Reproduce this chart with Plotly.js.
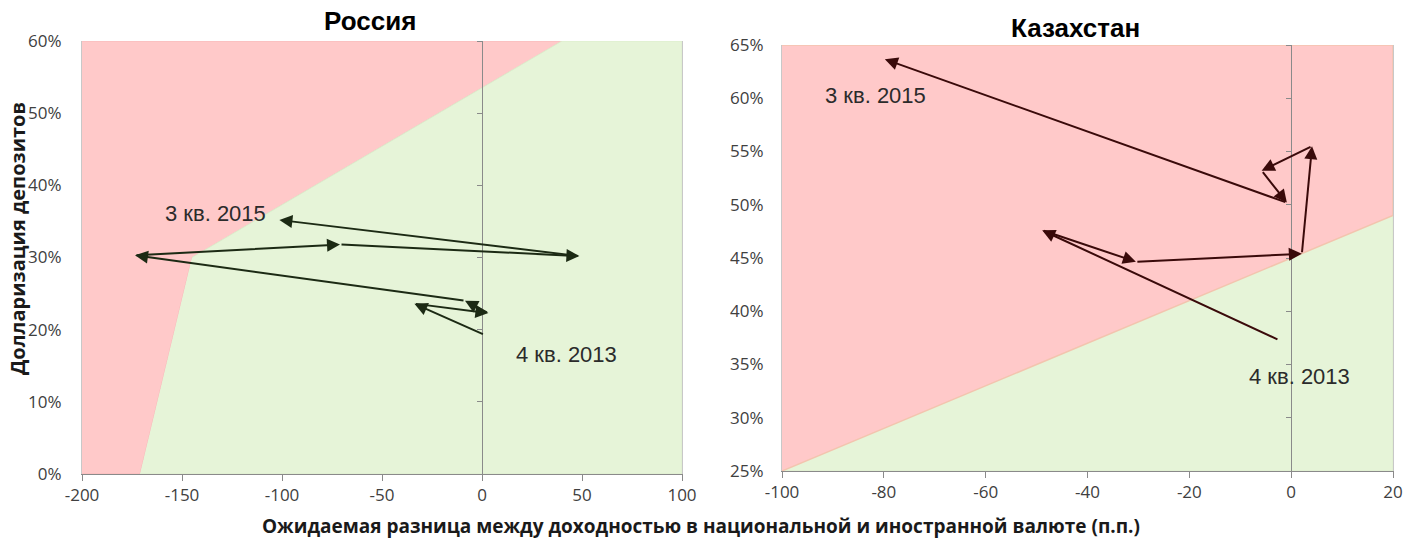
<!DOCTYPE html>
<html>
<head>
<meta charset="utf-8">
<script src="https://cdn.plot.ly/plotly-3.0.1.min.js"></script>
<style>html,body{margin:0;padding:0;background:#fff;}#chart{width:1419px;height:542px;}</style>
</head>
<body>
<div id="chart"></div>
<script>
// ---- data ----
const quarters = ['4 кв. 2013','1 кв. 2014','2 кв. 2014','3 кв. 2014','4 кв. 2014','1 кв. 2015','2 кв. 2015','3 кв. 2015'];
// Россия: expected yield differential (p.p.) and deposit dollarization (%)
const ruX = [1.2, -33.8, 3.2, -8.5, -173.5, -71.0, 48.7, -101.3];
const ruY = [19.3, 23.6, 22.3, 24.0, 30.3, 31.8, 30.2, 35.2];
// Казахстан
const kzX = [-2.4, -48.9, -30.5, 2.1, 4.1, -5.8, -0.85, -79.8];
const kzY = [37.3, 47.6, 44.65, 45.4, 55.5, 53.2, 50.2, 63.66];
// zone boundaries
const ruPinkX = [-200, -171, -145, 40, -200];
const ruPinkY = [0, 0, 30, 60, 60];
const ruGreenX = [-171, 100, 100, 40, -145];
const ruGreenY = [0, 0, 60, 60, 30];
const kzPinkX = [-100, 20, 20, -100];
const kzPinkY = [25, 49, 65, 65];
const kzGreenX = [-100, 20, 20];
const kzGreenY = [25, 25, 49];
// ticks
const ruXTicks = [-200, -150, -100, -50, 0, 50, 100];
const ruYTicks = [0, 10, 20, 30, 40, 50, 60];
const kzXTicks = [-100, -80, -60, -40, -20, 0, 20];
const kzYTicks = [25, 30, 35, 40, 45, 50, 55, 60, 65];
const ruRange = [-200, 100], ruYRange = [0, 60];
const kzRange = [-100, 20], kzYRange = [25, 65];
// labels
const ruLabels = [{t:'3 кв. 2015', x:-133.5, y:36.1}, {t:'4 кв. 2013', x:42, y:16.5}];
const kzLabels = [{t:'3 кв. 2015', x:-81.7, y:60.3}, {t:'4 кв. 2013', x:1.6, y:33.9}];

// ---- style ----
const PINK = '#ffc9c9', GREEN = '#e6f4d8';
const RU_ARROW = '#1c2a14', KZ_ARROW = '#3a0a0a';
const AX = '#8a8a8a';
const TICKFONT = {family:'Open Sans, sans-serif', size:17, color:'#404040'};
const LABELFONT = {family:'Liberation Sans, Arial, sans-serif', size:22, color:'#2b2b2b'};
const numTxt = v => String(v);           // plain hyphen minus, as in the source
const pctTxt = v => v + '%';

const xd1 = [82/1419, 682/1419], yd1 = [68/542, 501/542];
const xd2 = [782/1419, 1393/1419], yd2 = [71/542, 497/542];
const zeroPos = (dom, rng) => dom[0] + (0 - rng[0]) / (rng[1] - rng[0]) * (dom[1] - dom[0]);

const traces = [
  {x: ruPinkX, y: ruPinkY, xaxis:'x', yaxis:'y', fill:'toself', fillcolor:PINK, mode:'lines', line:{width:1, color:'#f7b9b9'}, hoverinfo:'skip', showlegend:false},
  {x: ruGreenX, y: ruGreenY, xaxis:'x', yaxis:'y', fill:'toself', fillcolor:GREEN, mode:'lines', line:{width:1, color:'#dcedcc'}, hoverinfo:'skip', showlegend:false},
  {x: kzGreenX, y: kzGreenY, xaxis:'x2', yaxis:'y2', fill:'toself', fillcolor:GREEN, mode:'lines', line:{width:1, color:'#dcedcc'}, hoverinfo:'skip', showlegend:false},
  {x: kzPinkX, y: kzPinkY, xaxis:'x2', yaxis:'y2', fill:'toself', fillcolor:PINK, mode:'lines', line:{width:1.5, color:'#f3c4ae'}, hoverinfo:'skip', showlegend:false},
  {x:[0], y:[null], xaxis:'x', yaxis:'y3', mode:'markers', marker:{opacity:0}, hoverinfo:'skip', showlegend:false},
  {x:[0], y:[null], xaxis:'x2', yaxis:'y4', mode:'markers', marker:{opacity:0}, hoverinfo:'skip', showlegend:false}
];

const annotations = [];
function arrows(X, Y, xr, yr, color) {
  for (let i = 1; i < X.length; i++) {
    annotations.push({x: X[i], y: Y[i], ax: X[i-1], ay: Y[i-1], xref: xr, yref: yr, axref: xr, ayref: yr,
      text: '', showarrow: true, arrowhead: 2, arrowsize: 1.3, arrowwidth: 2, arrowcolor: color, standoff: 0, startstandoff: 0});
  }
}
arrows(ruX, ruY, 'x', 'y', RU_ARROW);
arrows(kzX, kzY, 'x2', 'y2', KZ_ARROW);
ruLabels.forEach(l => annotations.push({x:l.x, y:l.y, xref:'x', yref:'y', xanchor:'center', yanchor:'middle', text:l.t, showarrow:false, font:LABELFONT}));
kzLabels.forEach(l => annotations.push({x:l.x, y:l.y, xref:'x2', yref:'y2', xanchor:'center', yanchor:'middle', text:l.t, showarrow:false, font:LABELFONT}));
annotations.push({text:'<b>Россия</b>', xref:'paper', yref:'paper', x:370/1419, y:1-21/542, xanchor:'center', yanchor:'middle', showarrow:false, font:{family:'Liberation Sans, Arial, sans-serif', size:26, color:'#000'}});
annotations.push({text:'<b>Казахстан</b>', xref:'paper', yref:'paper', x:1075/1419, y:1-28/542, xanchor:'center', yanchor:'middle', showarrow:false, font:{family:'Liberation Sans, Arial, sans-serif', size:26, color:'#000'}});
annotations.push({text:'<b>Ожидаемая разница между доходностью в национальной и иностранной валюте (п.п.)</b>', xref:'paper', yref:'paper', x:701/1419, y:1-526/542, xanchor:'center', yanchor:'middle', showarrow:false, font:{family:'Open Sans, sans-serif', size:19, color:'#1a1a1a'}});
annotations.push({text:'<b>Долларизация депозитов</b>', xref:'paper', yref:'paper', x:17/1419, y:1-239/542, xanchor:'center', yanchor:'middle', textangle:-90, showarrow:false, font:{family:'Open Sans, sans-serif', size:20, color:'#1a1a1a'}});

const baseX = {showgrid:false, zeroline:false, showline:true, linecolor:AX, linewidth:1, ticks:'outside', ticklen:6, tickcolor:AX, tickfont:TICKFONT, fixedrange:true, tickmode:'array'};
const baseY = {showgrid:false, zeroline:false, showline:true, mirror:true, linecolor:'#c8c8c8', ticks:'', tickfont:TICKFONT, tickmode:'array'};
const baseZ = {anchor:'free', showticklabels:false, showgrid:false, zeroline:false, showline:true, linecolor:AX, ticks:'outside', ticklen:5, tickcolor:AX, tickmode:'array'};
const layout = {
  width:1419, height:542, margin:{l:0, r:0, t:0, b:0},
  paper_bgcolor:'#fff', plot_bgcolor:'#fff', showlegend:false,
  xaxis: Object.assign({}, baseX, {domain:xd1, range:ruRange, tickvals:ruXTicks, ticktext:ruXTicks.map(numTxt), anchor:'y'}),
  yaxis: Object.assign({}, baseY, {domain:yd1, range:ruYRange, tickvals:ruYTicks, ticktext:ruYTicks.map(pctTxt), anchor:'x', ticklabelstandoff:16}),
  yaxis3: Object.assign({}, baseZ, {overlaying:'y', position:zeroPos(xd1, ruRange), range:ruYRange, tickvals:ruYTicks}),
  xaxis2: Object.assign({}, baseX, {domain:xd2, range:kzRange, tickvals:kzXTicks, ticktext:kzXTicks.map(numTxt), anchor:'y2'}),
  yaxis2: Object.assign({}, baseY, {domain:yd2, range:kzYRange, tickvals:kzYTicks, ticktext:kzYTicks.map(pctTxt), anchor:'x2', ticklabelstandoff:14}),
  yaxis4: Object.assign({}, baseZ, {overlaying:'y2', position:zeroPos(xd2, kzRange), range:kzYRange, tickvals:kzYTicks}),
  annotations: annotations
};
Plotly.newPlot('chart', traces, layout, {displayModeBar:false, staticPlot:true});
</script>
</body>
</html>
